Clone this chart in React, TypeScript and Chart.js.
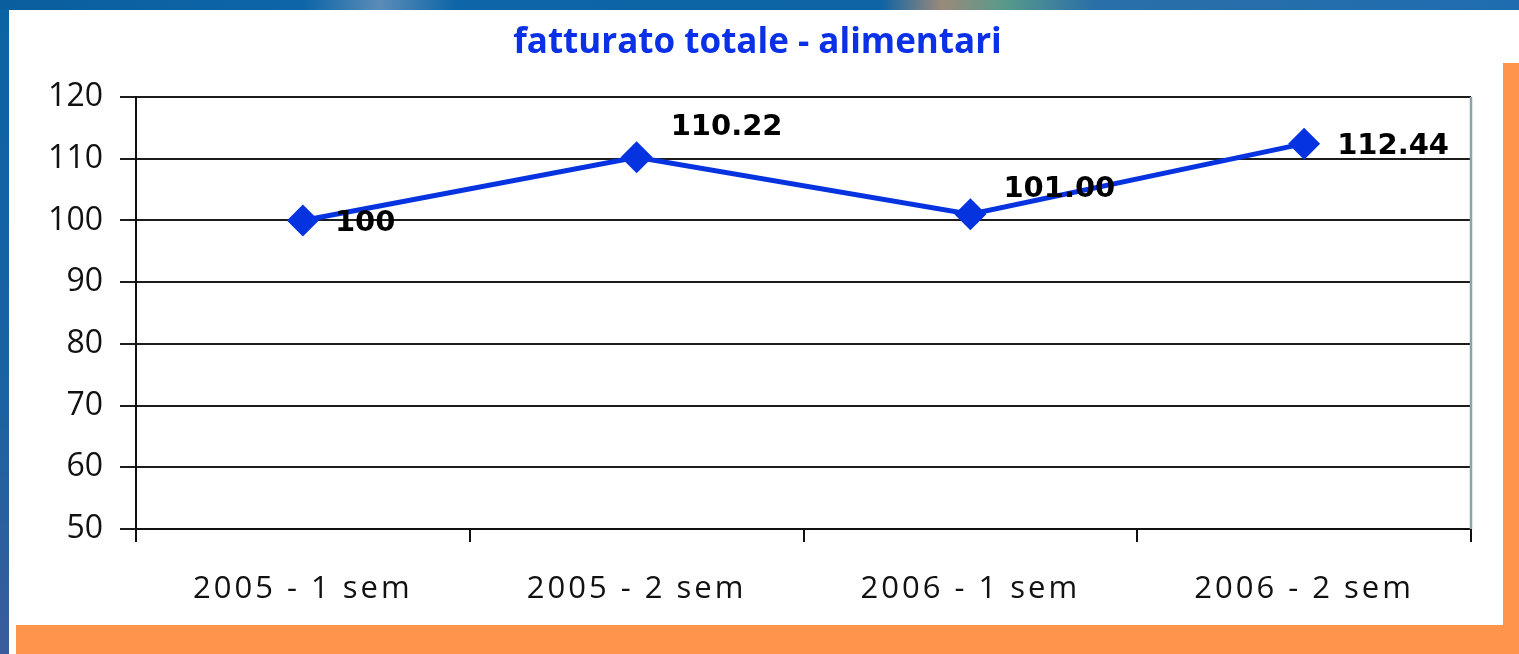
import React, { useEffect, useRef } from "react";
import { Chart, registerables } from "chart.js";

Chart.register(...registerables);

const chartTitle = "fatturato totale - alimentari";
const categories = ["2005 - 1 sem", "2005 - 2 sem", "2006 - 1 sem", "2006 - 2 sem"];
const values = [100, 110.22, 101.0, 112.44];
const valueLabels = ["100", "110.22", "101.00", "112.44"];
const yMin = 50;
const yMax = 120;
const yStep = 10;

const LINE_BLUE = "#0633e0";
const TITLE_BLUE = "#0a30e8";
const ORANGE = "#ff954d";

// style: label placement relative to each point
const labelOffsets = [
  { dx: 32, dy: 3 },
  { dx: 34, dy: -30 },
  { dx: 33, dy: -25 },
  { dx: 33, dy: 3 },
];

const decorPlugin = {
  id: "decor",
  afterDraw(chart: any) {
    const { ctx, chartArea } = chart;
    ctx.save();
    // right border of plot area
    ctx.strokeStyle = "#8aa5a6";
    ctx.lineWidth = 2.5;
    ctx.beginPath();
    ctx.moveTo(chartArea.right, chartArea.top);
    ctx.lineTo(chartArea.right, chartArea.bottom);
    ctx.stroke();
    // x category labels (letter spaced)
    const xs = chart.scales.x;
    ctx.font = "31px 'Open Sans'";
    (ctx as any).letterSpacing = "3px";
    ctx.fillStyle = "#111";
    ctx.textAlign = "center";
    ctx.textBaseline = "middle";
    categories.forEach((c, i) => {
      ctx.fillText(c, xs.getPixelForValue(i), chartArea.bottom + 60);
    });
    (ctx as any).letterSpacing = "0px";
    ctx.restore();
  },
  afterDatasetsDraw(chart: any) {
    const { ctx } = chart;
    const meta = chart.getDatasetMeta(0);
    ctx.save();
    ctx.font = "bold 29px 'DejaVu Sans'";
    ctx.fillStyle = "#000";
    ctx.textAlign = "left";
    ctx.textBaseline = "middle";
    meta.data.forEach((pt: any, i: number) => {
      const o = labelOffsets[i];
      ctx.fillText(valueLabels[i], pt.x + o.dx, pt.y + o.dy);
    });
    ctx.restore();
  },
};

export default function App() {
  const ref = useRef<HTMLCanvasElement>(null);
  useEffect(() => {
    if (!ref.current) return;
    const chart = new Chart(ref.current, {
      type: "line",
      data: {
        labels: categories,
        datasets: [
          {
            data: values,
            borderColor: LINE_BLUE,
            backgroundColor: LINE_BLUE,
            borderWidth: 5,
            pointStyle: "rectRot",
            pointRadius: 16,
            pointHoverRadius: 16,
            pointBackgroundColor: LINE_BLUE,
            pointBorderColor: LINE_BLUE,
            pointBorderWidth: 0,
            tension: 0,
          },
        ],
      },
      options: {
        animation: false,
        responsive: false,
        devicePixelRatio: 1,
        layout: { padding: { left: 44, right: 48, top: 0, bottom: 0 } },
        plugins: {
          legend: { display: false },
          tooltip: { enabled: false },
          title: {
            display: true,
            text: chartTitle,
            color: TITLE_BLUE,
            font: { family: "'Open Sans'", size: 35, weight: "bold", lineHeight: 1.2 },
            padding: { top: 22, bottom: 33 },
          },
        },
        scales: {
          x: {
            type: "category",
            offset: true,
            grid: {
              offset: true,
              drawOnChartArea: false,
              drawTicks: true,
              tickLength: 13,
              color: "#111",
              lineWidth: 2,
            },
            border: { display: true, color: "#111", width: 2 },
            ticks: { display: false },
            afterFit(scale: any) {
              scale.height = 125;
            },
          },
          y: {
            min: yMin,
            max: yMax,
            ticks: {
              stepSize: yStep,
              color: "#111",
              font: { family: "'Open Sans'", size: 32 },
              padding: 17,
            },
            grid: {
              color: "#1c1c1c",
              lineWidth: 2,
              drawTicks: true,
              tickLength: 16,
            },
            border: { display: true, color: "#111", width: 2 },
            afterFit(scale: any) {
              scale.width = 92;
            },
          },
        },
      },
      plugins: [decorPlugin],
    });
    return () => chart.destroy();
  }, []);

  return (
    <div
      style={{
        position: "fixed",
        left: 0,
        top: 0,
        width: 1519,
        height: 654,
        overflow: "hidden",
        background: "linear-gradient(180deg, #0b63a4 0%, #1a62a2 60%, #3b5c9a 100%)",
      }}
    >
      <div
        style={{
          position: "absolute",
          left: 0,
          top: 0,
          width: 1519,
          height: 10,
          background:
            "linear-gradient(90deg, #0a5e9e 0%, #0e66a8 20%, #5a8cb8 25%, #0e66a8 30%, #0e64a4 58%, #9a8a7a 62%, #5a9a8a 66%, #2a70a8 72%, #1f6cb0 100%)",
        }}
      />
      <div
        style={{ position: "absolute", left: 9, top: 10, width: 1510, height: 644, background: "#ffffff" }}
      />
      <div
        style={{ position: "absolute", left: 1503, top: 63, width: 16, height: 591, background: ORANGE }}
      />
      <div
        style={{ position: "absolute", left: 16, top: 625, width: 1503, height: 29, background: ORANGE }}
      />
      <canvas
        ref={ref}
        width={1519}
        height={654}
        style={{ position: "absolute", left: 0, top: 0, width: 1519, height: 654 }}
      />
    </div>
  );
}
